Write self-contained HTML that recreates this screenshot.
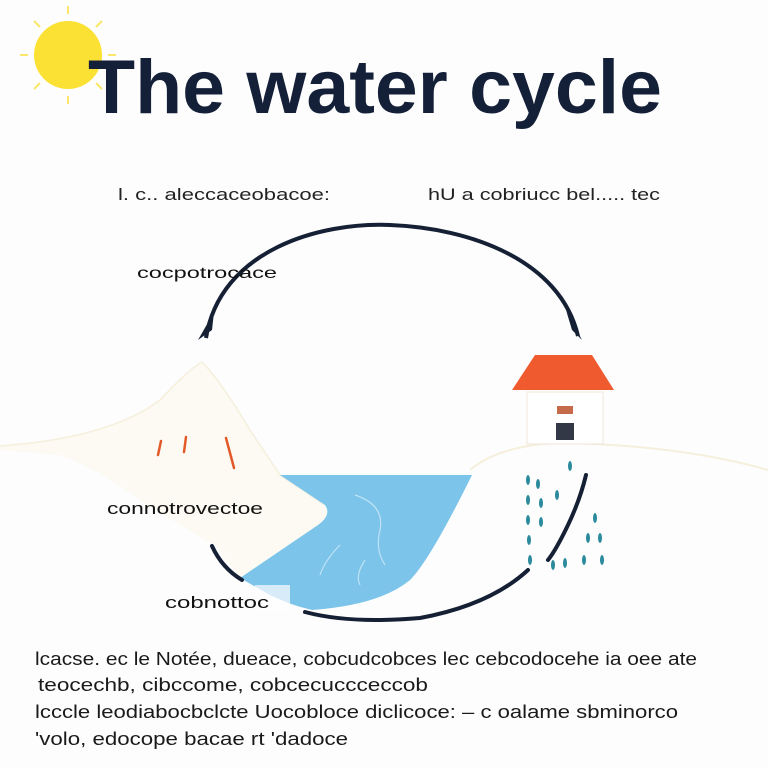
<!DOCTYPE html>
<html><head><meta charset="utf-8"><style>
html,body{margin:0;padding:0;background:#fdfdfd;}
svg{display:block;}
text{font-family:"Liberation Sans",sans-serif;}
</style></head><body>
<svg width="768" height="768" viewBox="0 0 768 768">
<rect width="768" height="768" fill="#fdfdfe"/>
<!-- sun -->
<g stroke="#fbe86a" stroke-width="2">
<line x1="68" y1="6" x2="68" y2="14"/><line x1="68" y1="96" x2="68" y2="104"/>
<line x1="20" y1="55" x2="28" y2="55"/><line x1="108" y1="55" x2="116" y2="55"/>
<line x1="34" y1="21" x2="40" y2="27"/><line x1="96" y1="83" x2="102" y2="89"/>
<line x1="102" y1="21" x2="96" y2="27"/><line x1="34" y1="89" x2="40" y2="83"/>
</g>
<circle cx="68" cy="55" r="34" fill="#fbe133"/>
<text x="88" y="113" font-size="76" font-weight="bold" fill="#142038" textLength="574" lengthAdjust="spacingAndGlyphs">The water cycle</text>
<text x="118" y="200" font-size="17" fill="#222" textLength="212" lengthAdjust="spacingAndGlyphs">l. c.. aleccaceobacoe:</text>
<text x="428" y="200" font-size="17" fill="#222" textLength="232" lengthAdjust="spacingAndGlyphs">hU a cobriucc bel..... tec</text>
<!-- top arc -->
<path d="M206,338 C220,250 320,222 390,225 C470,228 560,260 578,336" fill="none" stroke="#152035" stroke-width="4"/>
<path d="M198,340 L214,312 L212,330 Z" fill="#152035"/>
<path d="M582,340 L566,310 L572,330 Z" fill="#152035"/>
<text x="137" y="278" font-size="16" fill="#111" textLength="140" lengthAdjust="spacingAndGlyphs">cocpotrocace</text>
<!-- ground -->
<path d="M470,470 Q500,445 560,443 Q680,445 768,470" fill="none" stroke="#f5efdc" stroke-width="2"/>
<!-- mountain -->
<path d="M0,446 Q110,438 160,400 Q190,368 202,362 Q220,380 250,430 L280,475 L325,505 Q332,515 318,525 L240,578 L215,545 Q170,520 140,500 Q100,470 60,455 L0,450 Z" fill="#fcfaf2"/>
<path d="M0,446 Q110,438 160,400 Q190,368 202,362 Q220,380 250,430 L280,475 L325,505" fill="none" stroke="#f5efdc" stroke-width="1.5"/>
<g stroke="#e35a2a" stroke-width="2.5" stroke-linecap="round">
<line x1="158" y1="455" x2="161" y2="441"/><line x1="184" y1="452" x2="186" y2="437"/><line x1="226" y1="438" x2="234" y2="468"/>
</g>
<!-- water -->
<path d="M280,475 L472,475 Q430,560 410,580 Q380,605 312,610 Q290,605 270,595 L240,578 L318,525 Q332,515 325,505 Z" fill="#7cc4ea"/>
<g fill="none" stroke="#bfe3f5" stroke-width="1.2">
<path d="M355,495 Q385,505 380,530 Q375,550 385,565"/><path d="M340,545 Q325,560 320,575"/><path d="M365,560 Q355,575 360,585"/>
</g>
<rect x="255" y="585" width="35" height="25" fill="#fdfdfe" opacity="0.7"/>
<!-- house -->
<path d="M535,355 L592,355 L614,390 L512,390 Z" fill="#f05a2f"/>
<rect x="527" y="392" width="76" height="52" fill="#fff" stroke="#f0e6da" stroke-width="1"/>
<rect x="557" y="406" width="16" height="8" fill="#c56a4a"/>
<rect x="556" y="423" width="18" height="17" fill="#323846"/>
<!-- rain -->
<g fill="#2b8b9c">
<ellipse cx="570" cy="466" rx="2" ry="5"/><ellipse cx="528" cy="480" rx="2" ry="5"/><ellipse cx="538" cy="484" rx="2" ry="5"/>
<ellipse cx="557" cy="495" rx="2" ry="5"/><ellipse cx="528" cy="500" rx="2" ry="5"/><ellipse cx="541" cy="503" rx="2" ry="5"/>
<ellipse cx="528" cy="520" rx="2" ry="5"/><ellipse cx="541" cy="522" rx="2" ry="5"/><ellipse cx="595" cy="518" rx="2" ry="5"/>
<ellipse cx="529" cy="540" rx="2" ry="5"/><ellipse cx="588" cy="538" rx="2" ry="5"/><ellipse cx="600" cy="538" rx="2" ry="5"/>
<ellipse cx="530" cy="560" rx="2" ry="5"/><ellipse cx="553" cy="565" rx="2" ry="5"/><ellipse cx="565" cy="563" rx="2" ry="5"/><ellipse cx="584" cy="560" rx="2" ry="5"/><ellipse cx="602" cy="560" rx="2" ry="5"/>
</g>
<!-- lower arcs -->
<g fill="none" stroke="#152035" stroke-width="4" stroke-linecap="round">
<path d="M212,546 Q222,568 242,580"/>
<path d="M305,612 Q350,624 420,618 Q490,605 528,570"/>
<path d="M586,475 Q580,500 568,525 Q556,550 548,560"/>
</g>
<text x="107" y="514" font-size="17" fill="#111" textLength="156" lengthAdjust="spacingAndGlyphs">connotrovectoe</text>
<text x="165" y="608" font-size="17" fill="#111" textLength="104" lengthAdjust="spacingAndGlyphs">cobnottoc</text>
<!-- bottom text -->
<g font-size="18" fill="#1a1a1a">
<text x="35" y="665" textLength="662" lengthAdjust="spacingAndGlyphs">lcacse. ec le Notée, dueace, cobcudcobces lec cebcodocehe ia oee ate</text>
<text x="38" y="691" textLength="390" lengthAdjust="spacingAndGlyphs">teocechb, cibccome, cobcecuccceccob</text>
<text x="35" y="718" textLength="643" lengthAdjust="spacingAndGlyphs">lcccle leodiabocbclcte Uocobloce diclicoce: – c oalame sbminorco</text>
<text x="35" y="745" textLength="313" lengthAdjust="spacingAndGlyphs">'volo, edocope bacae rt 'dadoce</text>
</g>
</svg>
</body></html>
